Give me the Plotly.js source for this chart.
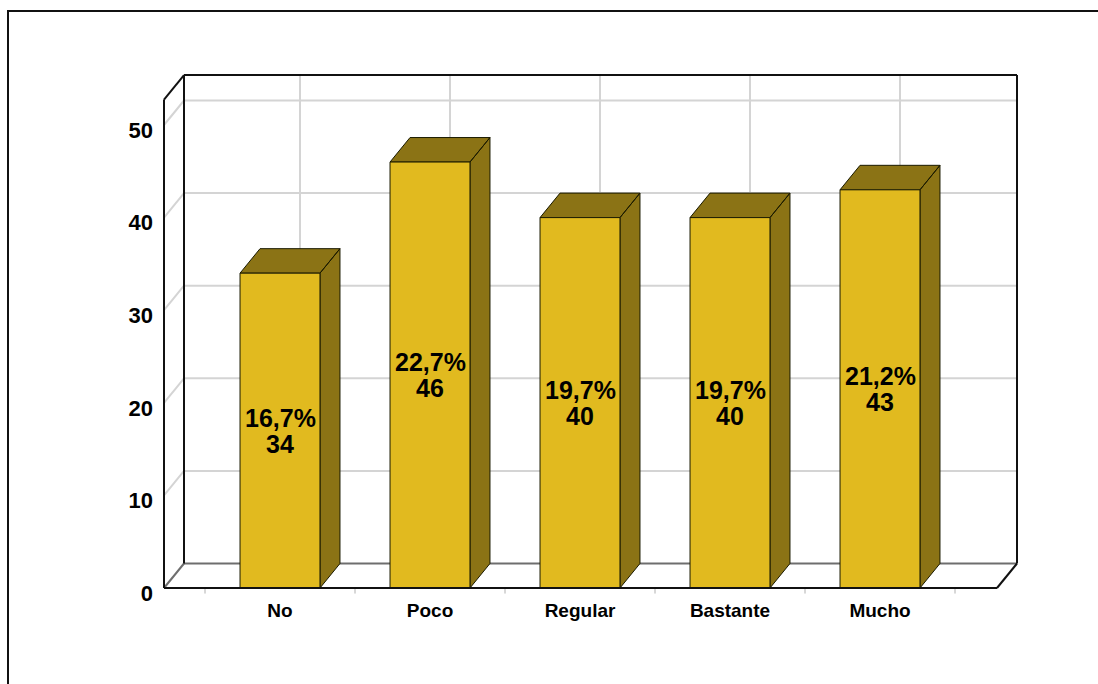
<!DOCTYPE html>
<html>
<head>
<meta charset="utf-8">
<script src="https://cdn.plot.ly/plotly-3.0.1.min.js"></script>
<style>
  html, body { margin: 0; padding: 0; background: #ffffff; }
  #wrap { position: relative; width: 1098px; height: 684px; overflow: hidden; }
  #chart { position: absolute; left: 0; top: 0; width: 1098px; height: 684px; }
  #frame { position: absolute; left: 7px; top: 10px; width: 1200px; height: 800px;
           border-top: 2px solid #111; border-left: 2px solid #111; pointer-events: none; }
</style>
</head>
<body>
<div id="wrap">
  <div id="chart"></div>
  <div id="frame"></div>
</div>
<script>
// ---- data ----
const categories = ['No', 'Poco', 'Regular', 'Bastante', 'Mucho'];
const counts = [34, 46, 40, 40, 43];
const yTickValues = [0, 10, 20, 30, 40, 50];

// ---- geometry / style constants ----
const PX_PER_X = 150, PX_PER_Y = 9.26;
const DX = 20 / PX_PER_X;          // depth offset (x units)
const DY = 24.5 / PX_PER_Y;        // depth offset (y units)
const X_MIN = -0.7733, X_MAX = 4.78, Y_TOP = 52.75;
const BAR_W = 0.533;
const GOLD = '#E1BA1F', DARK = '#8B7315';
const FONT = 'Liberation Sans, Arial, sans-serif';

const total = counts.reduce((a, b) => a + b, 0);
const pctText = counts.map(c => (c / total * 100).toFixed(1).replace('.', ',') + '%');

function segs(list) {
  const x = [], y = [];
  list.forEach(s => { x.push(s[0], s[2], null); y.push(s[1], s[3], null); });
  return { x, y };
}
function polys(list) {
  const x = [], y = [];
  list.forEach(p => { p.forEach(pt => { x.push(pt[0]); y.push(pt[1]); }); x.push(null); y.push(null); });
  return { x, y };
}

// light gridlines: back wall horizontals, left wall diagonals, back wall verticals
const gridSegs = [];
yTickValues.filter(v => v > 0).forEach(v => {
  gridSegs.push([X_MIN + DX, v + DY, X_MAX + DX, v + DY]);
  gridSegs.push([X_MIN, v, X_MIN + DX, v + DY]);
});
categories.forEach((c, i) => gridSegs.push([i + DX, DY, i + DX, Y_TOP + DY]));

// floor back line + left floor diagonal
const floorSegs = [
  [X_MIN + DX, DY, X_MAX + DX, DY],
  [X_MIN, 0, X_MIN + DX, DY]
];

// black frame
const frameSegs = [
  [X_MIN + DX, DY, X_MIN + DX, Y_TOP + DY],
  [X_MIN + DX, Y_TOP + DY, X_MAX + DX, Y_TOP + DY],
  [X_MAX + DX, Y_TOP + DY, X_MAX + DX, DY],
  [X_MAX + DX, DY, X_MAX, 0],
  [X_MIN, 0, X_MIN, Y_TOP],
  [X_MIN, Y_TOP, X_MIN + DX, Y_TOP + DY]
];
const baseSegs = [[X_MIN, 0, X_MAX, 0]];

// small ticks below baseline at category boundaries
const tickSegs = [];
for (let i = -1; i < categories.length; i++) tickSegs.push([i + 0.5, 0, i + 0.5, -0.6]);

// bars
const fronts = [], sides = [];
counts.forEach((v, i) => {
  const l = i - BAR_W / 2, r = i + BAR_W / 2;
  fronts.push([[l, 0], [r, 0], [r, v], [l, v], [l, 0]]);
  sides.push([[r, 0], [r + DX, DY], [r + DX, v + DY], [r, v], [r, 0]]);
  sides.push([[l, v], [l + DX, v + DY], [r + DX, v + DY], [r, v], [l, v]]);
});

function lineTrace(d, color, width) {
  return { type: 'scatter', mode: 'lines', x: d.x, y: d.y, line: { color, width },
           hoverinfo: 'skip', showlegend: false };
}
function fillTrace(d, fill) {
  return { type: 'scatter', mode: 'lines', x: d.x, y: d.y, fill: 'toself', fillcolor: fill,
           line: { color: '#1a1a00', width: 1 }, hoverinfo: 'skip', showlegend: false };
}

const traces = [
  lineTrace(segs(gridSegs), '#d4d4d4', 2),
  lineTrace(segs(floorSegs), '#6e6e6e', 2),
  lineTrace(segs(frameSegs), '#111111', 2),
  lineTrace(segs(tickSegs), '#b0b0b0', 1),
  fillTrace(polys(sides), DARK),
  fillTrace(polys(fronts), GOLD),
  lineTrace(segs(baseSegs), '#111111', 2)
];

const annotations = [];
counts.forEach((v, i) => {
  annotations.push({ x: i, y: v / 2, xref: 'x', yref: 'y', text: pctText[i], showarrow: false,
    yshift: 13, font: { family: FONT, size: 25, color: '#000', weight: 'bold' } });
  annotations.push({ x: i, y: v / 2, xref: 'x', yref: 'y', text: String(v), showarrow: false,
    yshift: -13, font: { family: FONT, size: 25, color: '#000', weight: 'bold' } });
});

// plot area padded around the drawing
const L = 154, R = 1027, T = 65, B = 597;
const xr = [(L - 280) / PX_PER_X, (R - 280) / PX_PER_X];
const yr = [(588 - B) / PX_PER_Y, (588 - T) / PX_PER_Y];

const layout = {
  width: 1098, height: 684,
  margin: { l: L, r: 1098 - R, t: T, b: 684 - B, pad: 0 },
  paper_bgcolor: '#ffffff', plot_bgcolor: 'rgba(0,0,0,0)',
  showlegend: false,
  xaxis: {
    range: xr, tickmode: 'array', tickvals: categories.map((c, i) => i), ticktext: categories,
    ticks: '', showgrid: false, zeroline: false, showline: false, fixedrange: true,
    tickfont: { family: FONT, size: 19, color: '#000', weight: 'bold' }, ticklabelstandoff: 0
  },
  yaxis: {
    range: yr, tickmode: 'array', tickvals: yTickValues,
    ticks: '', showgrid: false, zeroline: false, showline: false, fixedrange: true,
    tickfont: { family: FONT, size: 22, color: '#000', weight: 'bold' }, ticklabelstandoff: 0,
    ticklabelshift: 5
  },
  annotations
};

Plotly.newPlot('chart', traces, layout, { displayModeBar: false, staticPlot: true });
</script>
</body>
</html>
